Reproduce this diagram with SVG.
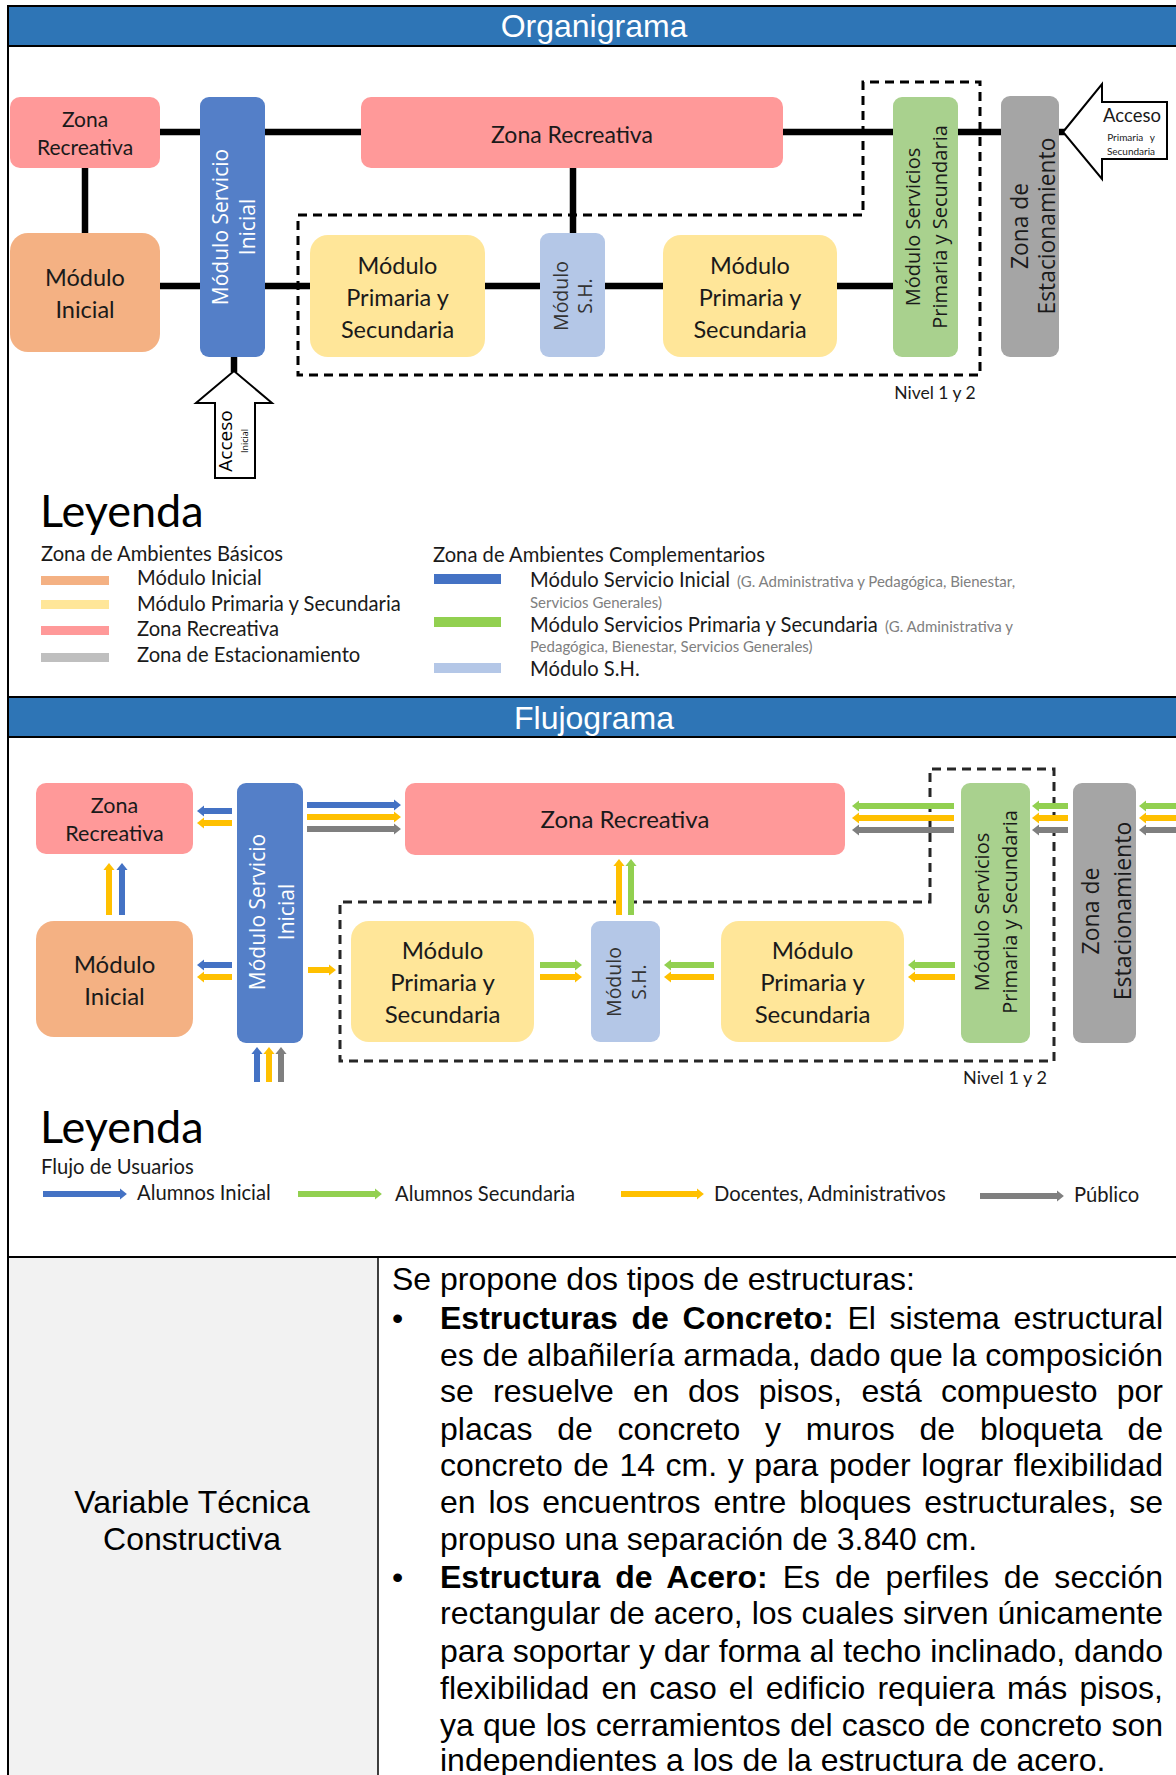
<svg xmlns="http://www.w3.org/2000/svg" width="1176" height="1775" viewBox="0 0 1176 1775">
<style>
.hdr{font-family:"Liberation Sans",Arial,sans-serif;font-size:32px;fill:#fff;text-anchor:middle}
.lbl{font-family:Lato,"Liberation Sans",sans-serif;fill:#1a1a1a;text-anchor:middle}
.vt{font-family:"Open Sans","DejaVu Sans",sans-serif;text-anchor:middle}
.leg{font-family:Lato,"Liberation Sans",sans-serif;fill:#1a1a1a;font-size:20.2px}
.ley{font-family:Lato,"Liberation Sans",sans-serif;fill:#000;font-size:45px}
.sm{font-family:Lato,"Liberation Sans",sans-serif;fill:#808080;font-size:15px}
.con{stroke:#000;stroke-width:6.5;fill:none}
.dash{fill:none;stroke:#000;stroke-width:3;stroke-dasharray:9 6}
.acc{fill:#fff;stroke:#000;stroke-width:2}
.body{font-family:"Liberation Sans",Arial,sans-serif;font-size:32px;fill:#000}
.fB{stroke:#4472C4;stroke-width:6;marker-end:url(#mB)}
.fG{stroke:#92D050;stroke-width:6;marker-end:url(#mG)}
.fY{stroke:#FFC000;stroke-width:6;marker-end:url(#mY)}
.fK{stroke:#7F7F7F;stroke-width:6;marker-end:url(#mK)}
</style>
<defs>
<marker id="mB" viewBox="0 0 10 16" refX="1" refY="8" markerWidth="1.2" markerHeight="1.92" orient="auto" markerUnits="strokeWidth"><path d="M0,0 L10,8 L0,16 z" fill="#4472C4"/></marker>
<marker id="mG" viewBox="0 0 10 16" refX="1" refY="8" markerWidth="1.2" markerHeight="1.92" orient="auto" markerUnits="strokeWidth"><path d="M0,0 L10,8 L0,16 z" fill="#92D050"/></marker>
<marker id="mY" viewBox="0 0 10 16" refX="1" refY="8" markerWidth="1.2" markerHeight="1.92" orient="auto" markerUnits="strokeWidth"><path d="M0,0 L10,8 L0,16 z" fill="#FFC000"/></marker>
<marker id="mK" viewBox="0 0 10 16" refX="1" refY="8" markerWidth="1.2" markerHeight="1.92" orient="auto" markerUnits="strokeWidth"><path d="M0,0 L10,8 L0,16 z" fill="#7F7F7F"/></marker>
</defs>

<rect x="0" y="0" width="1176" height="1775" fill="#fff"/>

<!-- table frame -->
<g id="frame">
<rect x="9" y="1258" width="369" height="520" fill="#F2F2F2"/>
<rect x="8" y="6" width="1172" height="1780" fill="none" stroke="#000" stroke-width="2"/>
<rect x="8" y="6" width="1172" height="40" fill="#2E75B6" stroke="#000" stroke-width="2"/>
<rect x="8" y="697" width="1172" height="40" fill="#2E75B6" stroke="#000" stroke-width="2"/>
<line x1="8" y1="1257" x2="1180" y2="1257" stroke="#000" stroke-width="2"/>
<line x1="378" y1="1257" x2="378" y2="1780" stroke="#000" stroke-width="1.5"/>
<text class="hdr" x="594" y="37">Organigrama</text>
<text class="hdr" x="594" y="729">Flujograma</text>
</g>

<!-- ORGANIGRAMA connectors -->
<g id="o-connectors">
<line class="con" x1="160" y1="132" x2="200" y2="132"/>
<line class="con" x1="265" y1="132" x2="361" y2="132"/>
<line class="con" x1="85" y1="168" x2="85" y2="233"/>
<line class="con" x1="160" y1="286" x2="200" y2="286"/>
<line class="con" x1="265" y1="286" x2="310" y2="286"/>
<line class="con" x1="485" y1="286" x2="540" y2="286"/>
<line class="con" x1="573" y1="168" x2="573" y2="233"/>
<line class="con" x1="605" y1="286" x2="663" y2="286"/>
<line class="con" x1="837" y1="286" x2="893" y2="286"/>
<line class="con" x1="783" y1="132" x2="893" y2="132"/>
<line class="con" x1="958" y1="132" x2="1001" y2="132"/>
<line class="con" x1="1059" y1="132" x2="1065" y2="132"/>
<line class="con" x1="234" y1="357" x2="234" y2="372"/>
<path class="dash" d="M298,215 L863,215 L863,82 L980,82 L980,375 L298,375 Z"/>
</g>

<!-- ORGANIGRAMA nodes -->
<g id="o-zona-recreativa-1">
<rect x="10" y="97" width="150" height="71" rx="10" fill="#FF9999"/>
<text class="lbl" font-size="21"><tspan x="85" y="127">Zona</tspan><tspan x="85" y="155">Recreativa</tspan></text>
</g>
<g id="o-modulo-servicio-inicial">
<rect x="200" y="97" width="65" height="260" rx="9" fill="#547FC8"/>
<text class="vt" font-size="21" fill="#fff" transform="translate(232.5,227) rotate(-90)"><tspan x="0" y="-5">Módulo Servicio</tspan><tspan x="0" y="22">Inicial</tspan></text>
</g>
<g id="o-zona-recreativa-2">
<rect x="361" y="97" width="422" height="71" rx="10" fill="#FF9999"/>
<text class="lbl" font-size="23" x="572" y="143">Zona Recreativa</text>
</g>
<g id="o-modulo-inicial">
<rect x="10" y="233" width="150" height="119" rx="18" fill="#F4B183"/>
<text class="lbl" font-size="23.5"><tspan x="85" y="286">Módulo</tspan><tspan x="85" y="318">Inicial</tspan></text>
</g>
<g id="o-modulo-primaria-1">
<rect x="310" y="235" width="175" height="122" rx="18" fill="#FFE699"/>
<text class="lbl" font-size="23.5"><tspan x="397.5" y="274">Módulo</tspan><tspan x="397.5" y="306">Primaria y</tspan><tspan x="397.5" y="338">Secundaria</tspan></text>
</g>
<g id="o-modulo-sh">
<rect x="540" y="233" width="65" height="124" rx="9" fill="#B4C7E7"/>
<text class="vt" font-size="19.5" fill="#333" transform="translate(572.5,296) rotate(-90)"><tspan x="0" y="-4.5">Módulo</tspan><tspan x="0" y="19.5">S.H.</tspan></text>
</g>
<g id="o-modulo-primaria-2">
<rect x="663" y="235" width="174" height="122" rx="18" fill="#FFE699"/>
<text class="lbl" font-size="23.5"><tspan x="750" y="274">Módulo</tspan><tspan x="750" y="306">Primaria y</tspan><tspan x="750" y="338">Secundaria</tspan></text>
</g>
<g id="o-modulo-servicios-ps">
<rect x="893" y="97" width="65" height="260" rx="9" fill="#A9D18E"/>
<text class="vt" font-size="20" fill="#1a1a1a" transform="translate(925.5,227) rotate(-90)"><tspan x="0" y="-5.3">Módulo Servicios</tspan><tspan x="0" y="21.7">Primaria y Secundaria</tspan></text>
</g>
<g id="o-zona-estacionamiento">
<rect x="1001" y="96" width="58" height="261" rx="9" fill="#A5A5A5"/>
<text class="vt" font-size="22.8" fill="#1a1a1a" transform="translate(1030,226) rotate(-90)"><tspan x="0" y="-2">Zona de</tspan><tspan x="0" y="25">Estacionamiento</tspan></text>
</g>
<g id="o-acceso-inicial">
<polygon class="acc" points="234,371 272,403 255,403 255,478 215,478 215,403 196,403"/>
<text class="vt" fill="#000" transform="translate(237,441) rotate(-90)"><tspan x="0" y="-4.7" font-size="19">Acceso</tspan><tspan x="0" y="11" font-size="9">Inicial</tspan></text>
</g>
<g id="o-acceso-ps">
<polygon class="acc" points="1063,132 1102,84 1102,102 1167,102 1167,159 1102,159 1102,179"/>
<text class="lbl" font-size="18.5" x="1132" y="122" fill="#000">Acceso</text>
<text class="lbl" font-size="10" x="1131" y="141" fill="#000" word-spacing="4">Primaria y</text>
<text class="lbl" font-size="10" x="1131" y="155" fill="#000">Secundaria</text>
</g>
<g id="o-nivel">
<text class="lbl" font-size="17.5" x="935" y="399">Nivel 1 y 2</text>
</g>

<!-- ORGANIGRAMA legend -->
<g id="o-legend">
<text class="ley" x="40" y="527">Leyenda</text>
<text class="leg" x="41" y="561">Zona de Ambientes Básicos</text>
<rect x="41" y="576" width="68" height="9" fill="#F4B183"/>
<rect x="41" y="600" width="68" height="9" fill="#FFE699"/>
<rect x="41" y="626" width="68" height="9" fill="#FF9999"/>
<rect x="41" y="653" width="68" height="9" fill="#BFBFBF"/>
<text class="leg" x="137" y="585">Módulo Inicial</text>
<text class="leg" x="137" y="611">Módulo Primaria y Secundaria</text>
<text class="leg" x="137" y="636">Zona Recreativa</text>
<text class="leg" x="137" y="662">Zona de Estacionamiento</text>
<text class="leg" x="433" y="562">Zona de Ambientes Complementarios</text>
<rect x="434" y="574" width="67" height="10" fill="#4472C4"/>
<rect x="434" y="617" width="67" height="10" fill="#92D050"/>
<rect x="434" y="663" width="67" height="10" fill="#B4C7E7"/>
<text class="leg" x="530" y="587">Módulo Servicio Inicial</text>
<text class="sm" x="737" y="587">(G. Administrativa y Pedagógica, Bienestar,</text>
<text class="sm" x="530" y="608">Servicios Generales)</text>
<text class="leg" x="530" y="632">Módulo Servicios Primaria y Secundaria</text>
<text class="sm" x="885" y="632">(G. Administrativa y</text>
<text class="sm" x="530" y="652">Pedagógica, Bienestar, Servicios Generales)</text>
<text class="leg" x="530" y="676">Módulo S.H.</text>
</g>

<!-- FLUJOGRAMA nodes -->
<g id="f-zona-recreativa-1">
<rect x="36" y="783" width="157" height="71" rx="10" fill="#FF9999"/>
<text class="lbl" font-size="21.5"><tspan x="114.5" y="813">Zona</tspan><tspan x="114.5" y="841">Recreativa</tspan></text>
</g>
<g id="f-modulo-servicio-inicial">
<rect x="237" y="783" width="66" height="260" rx="9" fill="#547FC8"/>
<text class="vt" font-size="21" fill="#fff" transform="translate(270,912) rotate(-90)"><tspan x="0" y="-5.5">Módulo Servicio</tspan><tspan x="0" y="23.5">Inicial</tspan></text>
</g>
<g id="f-zona-recreativa-2">
<rect x="405" y="783" width="440" height="72" rx="10" fill="#FF9999"/>
<text class="lbl" font-size="24" x="625" y="828">Zona Recreativa</text>
</g>
<g id="f-modulo-inicial">
<rect x="36" y="921" width="157" height="116" rx="18" fill="#F4B183"/>
<text class="lbl" font-size="24"><tspan x="114.5" y="973">Módulo</tspan><tspan x="114.5" y="1005">Inicial</tspan></text>
</g>
<g id="f-modulo-primaria-1">
<rect x="351" y="921" width="183" height="121" rx="18" fill="#FFE699"/>
<text class="lbl" font-size="24"><tspan x="442.5" y="959">Módulo</tspan><tspan x="442.5" y="991">Primaria y</tspan><tspan x="442.5" y="1023">Secundaria</tspan></text>
</g>
<g id="f-modulo-sh">
<rect x="591" y="921" width="69" height="121" rx="9" fill="#B4C7E7"/>
<text class="vt" font-size="19.5" fill="#333" transform="translate(625.5,982) rotate(-90)"><tspan x="0" y="-4.5">Módulo</tspan><tspan x="0" y="20.5">S.H.</tspan></text>
</g>
<g id="f-modulo-primaria-2">
<rect x="721" y="921" width="183" height="121" rx="18" fill="#FFE699"/>
<text class="lbl" font-size="24"><tspan x="812.5" y="959">Módulo</tspan><tspan x="812.5" y="991">Primaria y</tspan><tspan x="812.5" y="1023">Secundaria</tspan></text>
</g>
<g id="f-modulo-servicios-ps">
<rect x="961" y="783" width="69" height="260" rx="9" fill="#A9D18E"/>
<text class="vt" font-size="20" fill="#1a1a1a" transform="translate(995.5,912) rotate(-90)"><tspan x="0" y="-6.3">Módulo Servicios</tspan><tspan x="0" y="21.7">Primaria y Secundaria</tspan></text>
</g>
<g id="f-zona-estacionamiento">
<rect x="1073" y="783" width="63" height="260" rx="9" fill="#A5A5A5"/>
<text class="vt" font-size="23" fill="#1a1a1a" transform="translate(1104.5,911) rotate(-90)"><tspan x="0" y="-5.5">Zona de</tspan><tspan x="0" y="26.5">Estacionamiento</tspan></text>
</g>
<g id="f-nivel">
<text class="lbl" font-size="18" x="1005" y="1084">Nivel 1 y 2</text>
</g>

<!-- FLUJOGRAMA connectors -->
<g id="f-connectors">
<path d="M930,902 L930,769 L1054,769 L1054,1061 L340,1061 L340,902 Z" fill="none" stroke="#262626" stroke-width="3" stroke-dasharray="9 6"/>
<line class="fB" x1="232" y1="811" x2="203.5" y2="811"/>
<line class="fY" x1="232" y1="823" x2="203.5" y2="823"/>
<line class="fB" x1="232" y1="965" x2="203.5" y2="965"/>
<line class="fY" x1="232" y1="977" x2="203.5" y2="977"/>
<line class="fY" x1="109" y1="915" x2="109" y2="869.5"/>
<line class="fB" x1="122" y1="915" x2="122" y2="869.5"/>
<line class="fB" x1="307" y1="805" x2="394.5" y2="805"/>
<line class="fY" x1="307" y1="817" x2="394.5" y2="817"/>
<line class="fK" x1="307" y1="829" x2="394.5" y2="829"/>
<line class="fY" x1="308" y1="970" x2="329.5" y2="970"/>
<line class="fB" x1="257" y1="1082" x2="257" y2="1053.5"/>
<line class="fY" x1="269" y1="1082" x2="269" y2="1053.5"/>
<line class="fK" x1="281" y1="1082" x2="281" y2="1053.5"/>
<line class="fG" x1="540" y1="965" x2="575.5" y2="965"/>
<line class="fY" x1="540" y1="977" x2="575.5" y2="977"/>
<line class="fY" x1="619" y1="915" x2="619" y2="865.5"/>
<line class="fG" x1="631" y1="915" x2="631" y2="865.5"/>
<line class="fG" x1="714" y1="965" x2="670.5" y2="965"/>
<line class="fY" x1="714" y1="977" x2="670.5" y2="977"/>
<line class="fG" x1="955" y1="965" x2="914.5" y2="965"/>
<line class="fY" x1="955" y1="977" x2="914.5" y2="977"/>
<line class="fG" x1="954" y1="806" x2="858.5" y2="806"/>
<line class="fY" x1="954" y1="818" x2="858.5" y2="818"/>
<line class="fK" x1="954" y1="830" x2="858.5" y2="830"/>
<line class="fG" x1="1068" y1="806" x2="1038.5" y2="806"/>
<line class="fY" x1="1068" y1="818" x2="1038.5" y2="818"/>
<line class="fK" x1="1068" y1="830" x2="1038.5" y2="830"/>
<line class="fG" x1="1182" y1="806" x2="1145.5" y2="806"/>
<line class="fY" x1="1182" y1="818" x2="1145.5" y2="818"/>
<line class="fK" x1="1182" y1="830" x2="1145.5" y2="830"/>
</g>

<!-- FLUJOGRAMA legend -->
<g id="f-legend">
<text class="ley" x="40" y="1143">Leyenda</text>
<text class="leg" x="41" y="1174" font-size="20.5">Flujo de Usuarios</text>
<line class="fB" x1="43" y1="1194" x2="120.4" y2="1194" stroke-width="7"/>
<line class="fG" x1="298" y1="1194" x2="375.4" y2="1194" stroke-width="7"/>
<line class="fY" x1="621" y1="1194" x2="697.4" y2="1194" stroke-width="7"/>
<line class="fK" x1="980" y1="1196" x2="1057.4" y2="1196" stroke-width="7"/>
<text class="leg" x="137" y="1200" font-size="20.6">Alumnos Inicial</text>
<text class="leg" x="395" y="1201" font-size="20.6">Alumnos Secundaria</text>
<text class="leg" x="714" y="1201" font-size="20.6">Docentes, Administrativos</text>
<text class="leg" x="1074" y="1202" font-size="20.6">Público</text>
</g>

<!-- TABLE ROW -->
<g id="t-left">
<text class="body" text-anchor="middle" x="192" y="1513">Variable Técnica</text>
<text class="body" text-anchor="middle" x="192" y="1550">Constructiva</text>
</g>
<g id="t-right">
<text class="body" x="392" y="1290">Se propone dos tipos de estructuras:</text>
<text class="body" x="392" y="1329">•</text>
<text class="body" x="440" y="1329" word-spacing="4.8" textLength="723" lengthAdjust="spacing"><tspan font-weight="bold">Estructuras de Concreto:</tspan> El sistema estructural</text>
<text class="body" x="440" y="1366" textLength="723" lengthAdjust="spacing">es de albañilería armada, dado que la composición</text>
<text class="body" x="440" y="1402" word-spacing="10.3" textLength="723" lengthAdjust="spacing">se resuelve en dos pisos, está compuesto por</text>
<text class="body" x="440" y="1440" word-spacing="15.9" textLength="723" lengthAdjust="spacing">placas de concreto y muros de bloqueta de</text>
<text class="body" x="440" y="1476" word-spacing="1.7" textLength="723" lengthAdjust="spacing">concreto de 14 cm. y para poder lograr flexibilidad</text>
<text class="body" x="440" y="1513" word-spacing="4" textLength="723" lengthAdjust="spacing">en los encuentros entre bloques estructurales, se</text>
<text class="body" x="440" y="1550">propuso una separación de 3.840 cm.</text>
<text class="body" x="392" y="1588">•</text>
<text class="body" x="440" y="1588" word-spacing="6" textLength="723" lengthAdjust="spacing"><tspan font-weight="bold">Estructura de Acero:</tspan> Es de perfiles de sección</text>
<text class="body" x="440" y="1624" textLength="723" lengthAdjust="spacing">rectangular de acero, los cuales sirven únicamente</text>
<text class="body" x="440" y="1662" textLength="723" lengthAdjust="spacing">para soportar y dar forma al techo inclinado, dando</text>
<text class="body" x="440" y="1699" word-spacing="3.2" textLength="723" lengthAdjust="spacing">flexibilidad en caso el edificio requiera más pisos,</text>
<text class="body" x="440" y="1736" word-spacing="0.4" textLength="723" lengthAdjust="spacing">ya que los cerramientos del casco de concreto son</text>
<text class="body" x="440" y="1771">independientes a los de la estructura de acero.</text>
</g>
</svg>
